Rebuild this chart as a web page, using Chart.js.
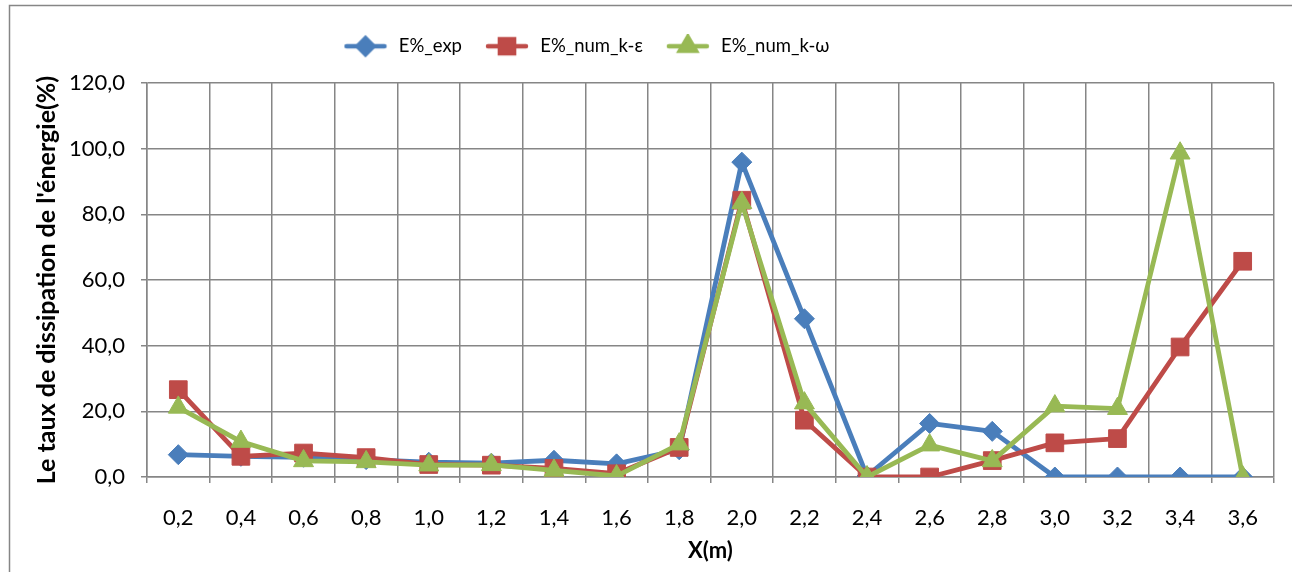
<!DOCTYPE html>
<html>
<head>
<meta charset="utf-8">
<script src="https://cdn.jsdelivr.net/npm/chart.js@4/dist/chart.umd.min.js"></script>
<style>
  html, body { margin: 0; padding: 0; background: #fff; }
  #wrap { width: 1292px; height: 572px; }
</style>
</head>
<body>
<div id="wrap"><canvas id="dissipChart" width="1292" height="572"></canvas></div>
<script>
/* ───────────── données ───────────── */
const positions = ['0,2','0,4','0,6','0,8','1,0','1,2','1,4','1,6','1,8','2,0','2,2','2,4','2,6','2,8','3,0','3,2','3,4','3,6'];
const eExp      = [6.8, 6.3, 6.0, 5.3, 4.5, 4.2, 5.1, 4.0, 8.3, 95.9, 48.2, 0.3, 16.3, 13.9, 0, 0, 0, 0];
const eKEps     = [26.6, 6.3, 7.3, 5.9, 3.8, 3.6, 2.6, 1.0, 9.0, 84.3, 17.3, 0, 0, 5.0, 10.4, 11.7, 39.6, 65.7];
const eKOmega   = [21.2, 10.8, 4.9, 4.6, 3.6, 3.7, 2.0, 0.3, 10.0, 83.5, 22.5, 0, 9.7, 4.9, 21.6, 20.8, 98.6, 0];
const yTicks    = [0, 20, 40, 60, 80, 100, 120];

const BLUE  = '#4a7ebb';
const RED   = '#be4b48';
const GREEN = '#98b954';
const GRID  = '#868686';
const FONT  = 'Lato, "Liberation Sans", sans-serif';

/* icône de légende : trait + marqueur */
function legendIcon(color, style, radius) {
  const c = document.createElement('canvas');
  c.width = 48; c.height = 24;
  const ctx = c.getContext('2d');
  ctx.strokeStyle = color;
  ctx.lineWidth = 4.5;
  ctx.lineCap = 'round';
  ctx.beginPath();
  ctx.moveTo(3, 12); ctx.lineTo(41, 12);
  ctx.stroke();
  ctx.fillStyle = color;
  Chart.helpers.drawPoint(ctx, { pointStyle: style, radius: radius, borderWidth: 1 }, 22, 12);
  ctx.fill();
  return c;
}

function serie(label, data, color, style, radius, order) {
  return {
    label, data, order,
    borderColor: color,
    backgroundColor: color,
    borderWidth: 4.8,
    pointStyle: style,
    pointRadius: radius,
    pointHoverRadius: radius,
    pointBorderWidth: 1,
    pointBorderColor: color,
    pointBackgroundColor: color,
    tension: 0,
    borderJoinStyle: 'round',
    borderCapStyle: 'round',
    legendImg: legendIcon(color, style, radius * 0.8)
  };
}

/* cadre gris autour du graphique */
const cadre = {
  id: 'cadre',
  beforeDraw(chart) {
    const ctx = chart.ctx;
    ctx.save();
    ctx.fillStyle = '#fff';
    ctx.fillRect(0, 0, chart.width, chart.height);
    ctx.strokeStyle = '#868686';
    ctx.lineWidth = 1.5;
    ctx.strokeRect(9.5, 5.5, 1400, 700);
    ctx.restore();
  }
};

/* hauteur fixe de la légende, décalée vers la gauche */
const legendeFixe = {
  id: 'legendeFixe',
  beforeInit(chart) {
    const lg = chart.legend;
    const fit = lg.fit;
    lg.fit = function () {
      fit.bind(lg)();
      this.height = 71;
      if (this.lineWidths && this.lineWidths.length) {
        this.lineWidths[0] = 1284 - 2 * 338;
      }
    };
  }
};

new Chart(document.getElementById('dissipChart'), {
  type: 'line',
  data: {
    labels: positions,
    datasets: [
      serie('E%_exp', eExp, BLUE, 'rectRot', 10, 3),
      serie('E%_num_k-ε', eKEps, RED, 'rect', 12.5, 2),
      serie('E%_num_k-ω', eKOmega, GREEN, 'triangle', 11.5, 1)
    ]
  },
  options: {
    responsive: false,
    devicePixelRatio: 1,
    animation: false,
    layout: { padding: { top: 12, right: 18, left: 0, bottom: 0 } },
    plugins: {
      legend: {
        position: 'top',
        labels: {
          usePointStyle: true,
          pointStyleWidth: 44,
          boxHeight: 18,
          padding: 25,
          color: '#000',
          font: { family: FONT, size: 18.5 },
          generateLabels(chart) {
            return chart.data.datasets.map((ds, i) => ({
              text: ds.label,
              pointStyle: ds.legendImg,
              fillStyle: ds.borderColor,
              strokeStyle: ds.borderColor,
              lineWidth: 0,
              fontColor: '#000',
              hidden: false,
              datasetIndex: i
            }));
          }
        }
      },
      tooltip: { enabled: false }
    },
    scales: {
      x: {
        offset: true,
        grid: { offset: true, color: GRID, lineWidth: 1.5, tickLength: 6, drawTicks: true },
        border: { color: GRID, width: 1.5 },
        ticks: { color: '#000', font: { family: FONT, size: 22 }, padding: 22, maxRotation: 0, autoSkip: false },
        title: {
          display: true, text: 'X(m)', color: '#000',
          font: { family: FONT, size: 22, weight: 'bold' },
          padding: { top: 4, bottom: 8 }
        },
        afterFit(scale) { scale.height = 95; }
      },
      y: {
        min: 0, max: 120,
        afterBuildTicks(scale) { scale.ticks = yTicks.map(v => ({ value: v })); },
        grid: { color: GRID, lineWidth: 1.5, tickLength: 6 },
        border: { color: GRID, width: 1.5 },
        ticks: {
          color: '#000', font: { family: FONT, size: 22 }, padding: 16,
          callback: v => v.toFixed(1).replace('.', ',')
        },
        title: {
          display: true, text: "Le taux de dissipation de l'énergie(%)", color: '#000',
          font: { family: FONT, size: 25, weight: 'bold' },
          padding: { top: 32, bottom: 0 }
        },
        afterFit(scale) { scale.width = 147; }
      }
    }
  },
  plugins: [cadre, legendeFixe]
});
</script>
</body>
</html>
